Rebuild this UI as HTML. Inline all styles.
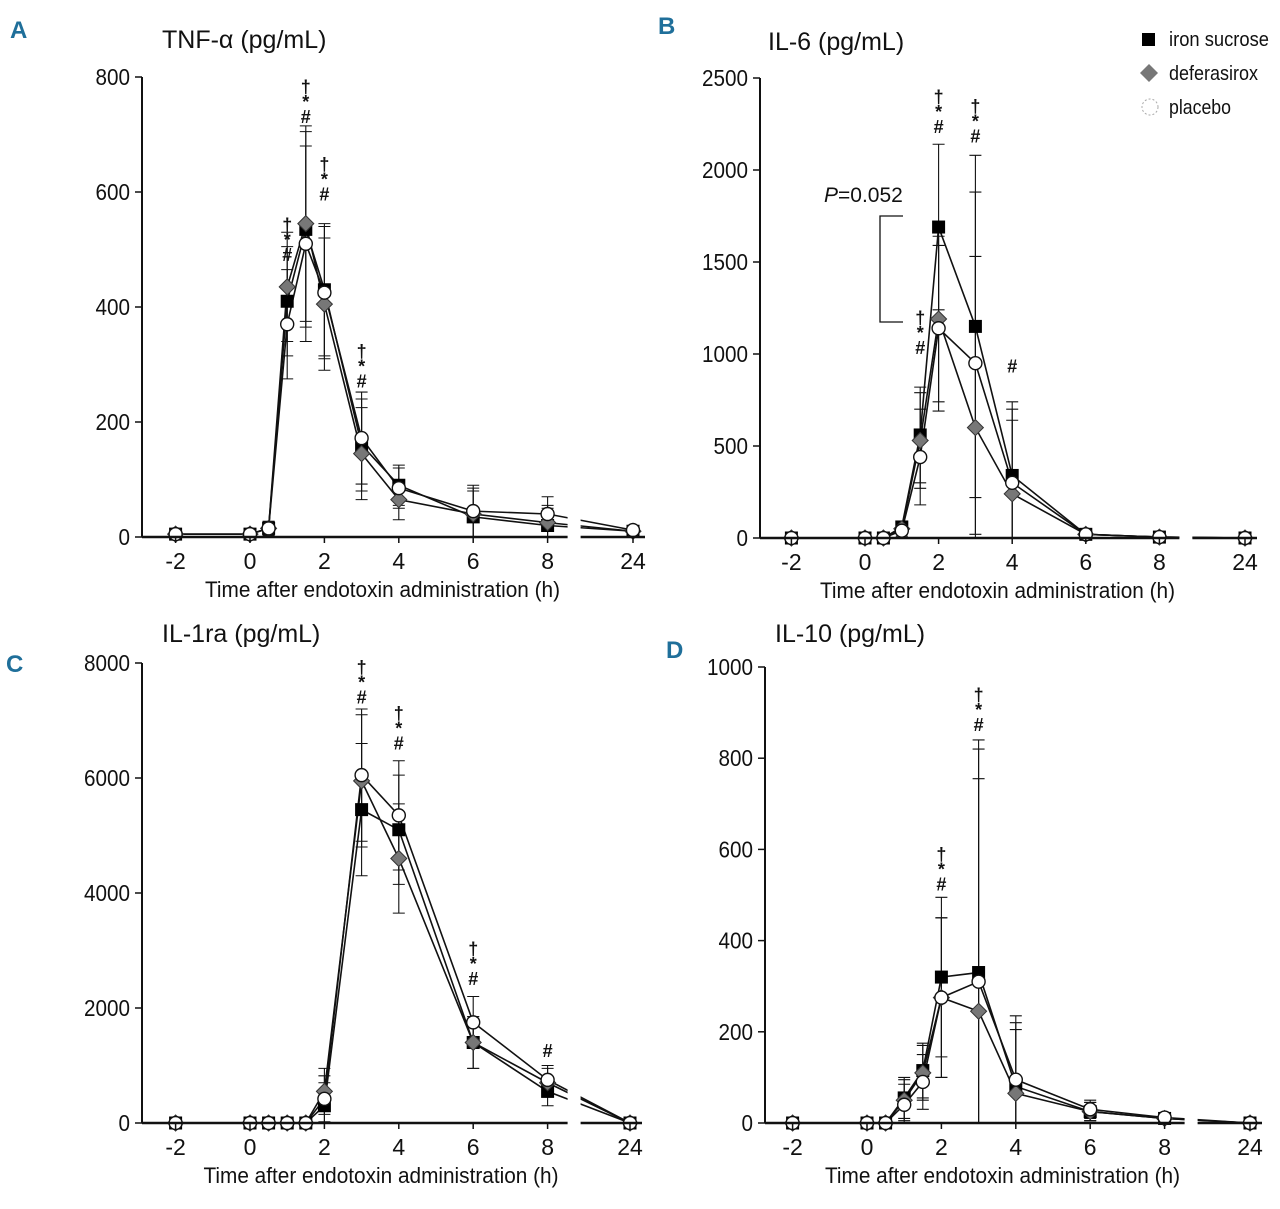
<!DOCTYPE html>
<html><head><meta charset="utf-8"><style>
body{margin:0;background:#fff;}
svg text{font-family:"Liberation Sans Narrow","Liberation Sans",sans-serif;fill:#111;}
</style></head><body>
<svg id="chart" width="1280" height="1204" viewBox="0 0 1280 1204" xmlns="http://www.w3.org/2000/svg"></svg>
<script>
const times=[-2,0,0.5,1,1.5,2,3,4,6,8,24];
const xTicks=[-2,0,2,4,6,8,24];
const seriesNames=["iron sucrose","deferasirox","placebo"];
// Panel A TNF
const tnfIron=[5,5,15,410,535,430,160,90,35,20,10];
const tnfDefer=[5,5,15,435,545,405,145,65,40,25,10];
const tnfPlacebo=[5,5,15,370,510,425,172,85,45,40,12];
const tnfErr=[3,3,12,95,170,115,80,35,45,30,5];
const tnfTicks=[0,200,400,600,800];
const tnfSig=[[1,"†*#"],[1.5,"†*#"],[2,"†*#"],[3,"†*#"]];
const tnfSigY=[480,720,585,260];
// Panel B IL-6
const il6Iron=[0,0,0,60,560,1690,1150,340,20,5,0];
const il6Defer=[0,0,0,50,530,1190,600,240,20,5,0];
const il6Placebo=[0,0,0,40,440,1140,950,300,20,5,0];
const il6Err=[0,0,0,30,260,450,930,400,15,5,0];
const il6Ticks=[0,500,1000,1500,2000,2500];
const il6Sig=[[1.5,"†*#"],[2,"†*#"],[3,"†*#"],[4,"#"]];
const il6SigY=[1000,2200,2150,900];
// Panel C IL-1ra
const il1Iron=[0,0,0,0,0,300,5450,5100,1400,550,0];
const il1Defer=[0,0,0,0,0,550,5950,4600,1400,700,0];
const il1Placebo=[0,0,0,0,0,420,6050,5350,1750,750,0];
const il1Err=[0,0,0,0,0,400,1150,950,450,250,50];
const il1Ticks=[0,2000,4000,6000,8000];
const il1Sig=[[3,"†*#"],[4,"†*#"],[6,"†*#"],[8,"#"]];
const il1SigY=[7300,6500,2400,1150];
// Panel D IL-10
const il10Iron=[0,0,0,55,115,320,330,80,25,10,0];
const il10Defer=[0,0,0,50,110,275,245,65,25,10,0];
const il10Placebo=[0,0,0,40,90,275,310,95,30,12,0];
const il10Err=[0,0,0,45,60,175,510,140,20,5,0];
const il10Ticks=[0,200,400,600,800,1000];
const il10Sig=[[2,"†*#"],[3,"†*#"]];
const il10SigY=[510,860];

const NS="http://www.w3.org/2000/svg";
const svg=document.getElementById('chart');
function mk(tag,attrs,parent){const e=document.createElementNS(NS,tag);for(const k in attrs)e.setAttribute(k,attrs[k]);(parent||svg).appendChild(e);return e;}

function panel(p){
  const g=mk('g',{});
  
  
  const xs=t=>{ if(t===24) return p.x24; return p.x0+(t)*p.pxh; };
  const ys=v=>p.y0-(v/p.ymax)*(p.y0-p.ytop);
  const data=[p.iron,p.defer,p.placebo];
  data.forEach((d,si)=>{
    const pl=mk('polyline',{points:d.map((v,i)=>xs(times[i])+','+ys(v)).join(' '),fill:'none',stroke:'#111','stroke-width':1.6},g);
    
    
  });
  mk('rect',{x:xs(8)+20,y:p.ytop,width:13,height:p.y0-p.ytop+20,fill:'#fff'},g);
  data.forEach((d,si)=>{
    d.forEach((v,i)=>{
      const e=p.err[i]; if(!e) return;
      const x=xs(times[i]);
      const eb=mk('path',{d:`M${x},${ys(v+e)}V${ys(Math.max(0,v-e))}M${x-6},${ys(v+e)}h12M${x-6},${ys(Math.max(0,v-e))}h12`,stroke:'#111','stroke-width':1.1,fill:'none'},g);
      
      
    });
  });
  data.forEach((d,si)=>{
    d.forEach((v,i)=>{
      const x=xs(times[i]),y=ys(v);let m;
      if(si===0) m=mk('rect',{x:x-6.5,y:y-6.5,width:13,height:13,fill:'#000'},g);
      else if(si===1) m=mk('path',{d:`M${x},${y-8}L${x+8},${y}L${x},${y+8}L${x-8},${y}Z`,fill:'#777',stroke:'#333','stroke-width':1},g);
      else m=mk('circle',{cx:x,cy:y,r:6.5,fill:'#fff',stroke:'#111','stroke-width':1.4},g);
      
      
    });
  });
  mk('line',{x1:p.ax,y1:p.ytop,x2:p.ax,y2:p.y0,stroke:'#111','stroke-width':2},g);
  mk('line',{x1:p.ax,y1:p.y0,x2:xs(8)+20,y2:p.y0,stroke:'#111','stroke-width':2.5},g);
  mk('line',{x1:xs(8)+33,y1:p.y0,x2:p.x24+12,y2:p.y0,stroke:'#111','stroke-width':2.5},g);
  p.ticks.forEach(v=>{
    mk('line',{x1:p.ax-7,y1:ys(v),x2:p.ax,y2:ys(v),stroke:'#111','stroke-width':1.5},g);
    const t=mk('text',{x:p.ax-12,y:ys(v)+8,'text-anchor':'end','font-size':23,textLength:String(v).length*11.5,lengthAdjust:'spacingAndGlyphs'},g);t.textContent=v;
    
  });
  xTicks.forEach(v=>{
    const x=xs(v);
    mk('line',{x1:x,y1:p.y0,x2:x,y2:p.y0+6,stroke:'#111','stroke-width':1.5},g);
    const t=mk('text',{x:x,y:p.y0+32,'text-anchor':'middle','font-size':23},g);t.textContent=v;
    
  });
  const xl=mk('text',{x:(p.ax+p.x24)/2-5,y:p.y0+60,'text-anchor':'middle','font-size':22,textLength:355,lengthAdjust:'spacingAndGlyphs'},g);
  xl.textContent='Time after endotoxin administration (h)';
  
  const ti=mk('text',{x:p.tx,y:p.ty,'font-size':25},g);ti.textContent=p.title;
  
  const lt=mk('text',{x:p.lx,y:p.ly,'font-size':24,'font-weight':'bold',style:'fill:#1f6f9a'},g);lt.textContent=p.letter;
  
  p.sig.forEach((s,i)=>{
    const x=xs(s[0]);const chars=s[1].split('');
    chars.forEach((c,j)=>{
      const t=mk('text',{x:x,y:ys(p.sigY[i])-(chars.length-1-j)*15,'text-anchor':'middle','font-size':18,'font-weight':'bold'},g);
      t.textContent=c;
      
    });
  });
  return {xs,ys,g};
}
panel({name:'tnf',letter:'A',lx:10,ly:38,title:'TNF-α (pg/mL)',tx:162,ty:48,ax:142,x0:250,pxh:37.2,x24:633,y0:537,ytop:77,ymax:800,ticks:tnfTicks,iron:tnfIron,defer:tnfDefer,placebo:tnfPlacebo,err:tnfErr,sig:tnfSig,sigY:tnfSigY});
panel({name:'il6',letter:'B',lx:658,ly:34,title:'IL-6 (pg/mL)',tx:768,ty:50,ax:760,x0:865,pxh:36.8,x24:1245,y0:538,ytop:78,ymax:2500,ticks:il6Ticks,iron:il6Iron,defer:il6Defer,placebo:il6Placebo,err:il6Err,sig:il6Sig,sigY:il6SigY});
panel({name:'il1ra',letter:'C',lx:6,ly:672,title:'IL-1ra (pg/mL)',tx:162,ty:642,ax:142,x0:250,pxh:37.2,x24:630,y0:1123,ytop:663,ymax:8000,ticks:il1Ticks,iron:il1Iron,defer:il1Defer,placebo:il1Placebo,err:il1Err,sig:il1Sig,sigY:il1SigY});
panel({name:'il10',letter:'D',lx:666,ly:658,title:'IL-10 (pg/mL)',tx:775,ty:642,ax:765,x0:867,pxh:37.2,x24:1250,y0:1123,ytop:667,ymax:1000,ticks:il10Ticks,iron:il10Iron,defer:il10Defer,placebo:il10Placebo,err:il10Err,sig:il10Sig,sigY:il10SigY});
const br=mk('path',{d:'M903,216H880V322H903',fill:'none',stroke:'#111','stroke-width':1.3});

const pt=mk('text',{x:824,y:202,'font-size':21});
pt.innerHTML='<tspan font-style="italic">P</tspan>=0.052';

const lg=mk('g',{});

mk('rect',{x:1142,y:33,width:13,height:13,fill:'#000'},lg);
mk('path',{d:'M1149,64L1158,73L1149,82L1140,73Z',fill:'#777'},lg);
mk('circle',{cx:1150,cy:107,r:8,fill:'#fff',stroke:'#aaa','stroke-width':1,'stroke-dasharray':'2,2'},lg);
const legW=[100,89,62];
seriesNames.forEach((n,i)=>{
  const t=mk('text',{x:1169,y:46+i*34,'font-size':20,textLength:legW[i],lengthAdjust:'spacingAndGlyphs'},lg);t.textContent=n;
  
});
</script>
</body></html>
